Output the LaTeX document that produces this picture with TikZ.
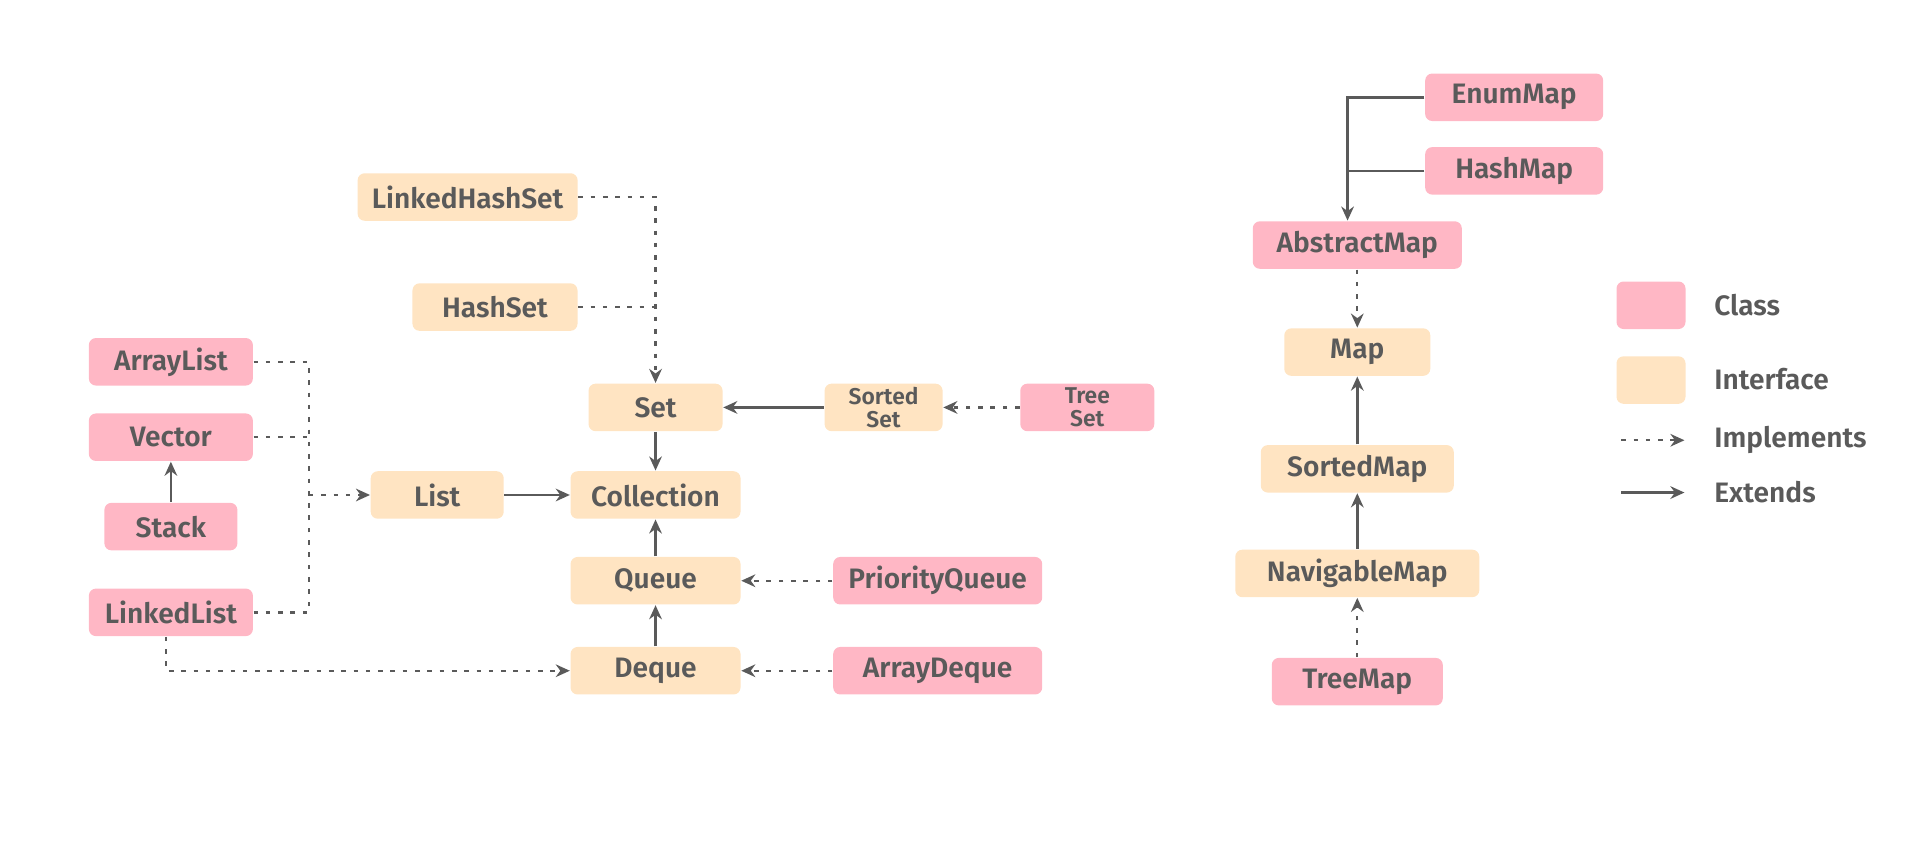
\documentclass[tikz,border=0pt]{standalone}
\usepackage{fontspec}
\setmainfont{Fira Sans}[BoldFont={Fira Sans SemiBold}]
\usetikzlibrary{arrows.meta,calc}

\definecolor{classpink}{HTML}{FFB7C5}
\definecolor{ifacetan}{HTML}{FFE4C2}
\definecolor{inkgray}{HTML}{5A5A5A}

\tikzset{%
  every box/.style={
    rectangle,
    rounded corners=2pt,
    inner sep=0pt,
    minimum height=0.475cm,
    text=inkgray,
    font=\fontsize{8}{9.6}\selectfont\bfseries
  },
  box class/.style={fill=classpink},
  box iface/.style={fill=ifacetan},
  box small/.style={
    align=center,
    font=\fontsize{6.5}{6.6}\selectfont\bfseries
  },
  impl/.style={->, draw=inkgray, line width=0.65pt, dash pattern=on 1.3pt off 2.2pt},
  ext/.style={->, draw=inkgray, line width=0.75pt},
}

\begin{document}
\begin{tikzpicture}[x=0.012162cm, y=-0.012162cm, >={Stealth[length=4pt,width=3.6pt]}]

\useasboundingbox (0,0) rectangle (1568,709);

% classes
\foreach \n/\t/\x/\y/\w in {arraylist/ArrayList/140.5/297.5/1.64,
    vector/Vector/140.5/359.5/1.64, stack/Stack/140.5/433/1.33,
    linkedlist/LinkedList/140.5/503.5/1.64,
    priorityqueue/PriorityQueue/771/477.5/2.09,
    arraydeque/ArrayDeque/771/551.5/2.09,
    enummap/EnumMap/1245/80/1.78, hashmap/HashMap/1245/140.5/1.78,
    abstractmap/AbstractMap/1116/201.5/2.09, treemap/TreeMap/1116/560.5/1.71}
  \node [every box, box class, minimum width=\w cm] (\n) at (\x,\y) {\t};

% interfaces
\foreach \n/\t/\x/\y/\w in {linkedhashset/LinkedHashSet/384.5/162/2.20,
    hashset/HashSet/407/252.5/1.65, list/List/359.5/407/1.33,
    collection/Collection/539/407/1.70, set/Set/539/335/1.34,
    queue/Queue/539/477.5/1.70, deque/Deque/539/551.5/1.70,
    map/Map/1116/289.5/1.46, sortedmap/SortedMap/1116/385.5/1.93,
    navigablemap/NavigableMap/1116/471.5/2.44}
  \node [every box, box iface, minimum width=\w cm] (\n) at (\x,\y) {\t};

\node [every box, box iface, box small, minimum width=1.18cm] (sortedset) at (726.5,335) {Sorted\\Set};
\node [every box, box class, box small, minimum width=1.34cm] (treeset) at (894,335) {Tree\\Set};

% extends
\draw [ext] (list) -- (collection);
\draw [ext] (set) -- (collection);
\draw [ext] (queue) -- (collection);
\draw [ext] (deque) -- (queue);
\draw [ext] (sortedset) -- (set);
\draw [ext] (stack) -- (vector);
\draw [ext] (sortedmap) -- (map);
\draw [ext] (navigablemap) -- (sortedmap);

\coordinate (amtop) at ($(abstractmap.north)+(-8,0)$);
\draw [ext] (enummap.west) -| (amtop);
\draw [draw=inkgray, line width=0.75pt] (hashmap.west) -- (hashmap.west -| amtop);

% implements
\draw [impl] (linkedhashset.east) -| (set.north);
\draw [impl, -] (hashset.east) -- (hashset.east -| set.north);

\coordinate (listjoin) at (254,407);
\draw [impl, -] (arraylist.east) -| (listjoin);
\draw [impl, -] (linkedlist.east) -| (listjoin);
\draw [impl, -] (vector.east) -- (vector.east -| listjoin);
\draw [impl] (listjoin) -- (list);

\draw [impl] ($(linkedlist.south)+(-4,0)$) |- (deque.west);
\draw [impl] (treeset) -- (sortedset);
\draw [impl] (priorityqueue) -- (queue);
\draw [impl] (arraydeque) -- (deque);
\draw [impl] (abstractmap) -- (map);
\draw [impl] (treemap) -- (navigablemap);

% legend
\node [every box, box class, minimum width=0.69cm] (key-class) at (1357.5,251) {};
\node [every box, box iface, minimum width=0.69cm] (key-iface) at (1357.5,312.5) {};
\coordinate (key-impl-a) at (1333,362);
\coordinate (key-impl-b) at (1385,362);
\coordinate (key-ext-a) at (1333,405);
\coordinate (key-ext-b) at (1385,405);
\draw [impl] (key-impl-a) -- (key-impl-b);
\draw [ext] (key-ext-a) -- (key-ext-b);

\foreach \t/\y [count=\i] in {Class/251, Interface/311.5, Implements/362, Extends/405}
  \node [anchor=west, inner sep=0pt, text=inkgray, font=\fontsize{8}{9.6}\selectfont\bfseries] (key-label-\i) at (1409,\y) {\t};

\end{tikzpicture}
\end{document}
